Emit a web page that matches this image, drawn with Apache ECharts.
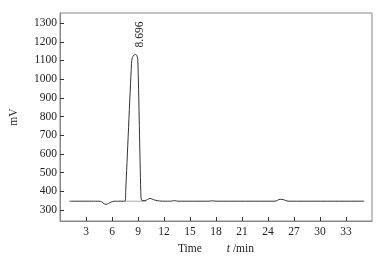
<!DOCTYPE html>
<html><head><meta charset="utf-8">
<script src="https://cdn.jsdelivr.net/npm/echarts@6/dist/echarts.min.js"></script>
<style>html,body{margin:0;padding:0;background:#fff}#c{width:390px;height:261px}</style>
</head><body><div id="c"></div>
<script>
var time   = [1.1, 4.5, 4.8, 5.1, 5.3, 5.6, 5.9, 6.3, 7.5, 7.58, 8.25, 8.35, 8.5, 8.7, 8.85, 8.98, 9.32, 9.42, 9.8, 10.1, 10.4, 10.8, 11.3, 12.0, 12.8, 13.2, 13.6, 17.2, 17.6, 18.0, 24.8, 25.4, 25.8, 26.3, 35.1];
var signal = [347, 347, 344, 333, 330, 335, 343, 347, 347, 400, 1085, 1115, 1128, 1132, 1128, 1105, 400, 352, 350, 356, 362, 355, 349, 347, 347, 350, 347, 347, 349, 347, 347, 357, 355, 347, 347];
var baseTime  = [7.5, 9.9];
var baseValue = [347, 347];
var peakTime = 8.7;
var peakLabel = '8.696';
var xTicks = [3, 6, 9, 12, 15, 18, 21, 24, 27, 30, 33];
var yTicks = [300, 400, 500, 600, 700, 800, 900, 1000, 1100, 1200, 1300];

var mainData = time.map(function (t, i) { return [t, signal[i]]; });
var peakValue = signal[time.indexOf(peakTime)];
var baseData = baseTime.map(function (t, i) { return [t, baseValue[i]]; });

var font = 'Liberation Serif';
var chart = echarts.init(document.getElementById('c'), null, {renderer: 'canvas'});
chart.setOption({
  animation: false,
  backgroundColor: '#fff',
  grid: {left: 55, right: 18, top: 13, bottom: 40, show: true, borderColor: '#888', borderWidth: 1},
  xAxis: {
    type: 'value', min: 0, max: 36,
    axisLine: {show: true, lineStyle: {color: '#888', width: 1}},
    axisTick: {show: true, inside: true, length: 4, customValues: xTicks, lineStyle: {color: '#333'}},
    axisLabel: {customValues: xTicks, margin: 5, fontFamily: font, fontSize: 11.5, color: '#222',
      formatter: function (v) { return String(v); }},
    splitLine: {show: false},
    name: '{a|Time}{i|t}{b| /min}', nameLocation: 'middle', nameGap: 20,
    nameTextStyle: {fontFamily: font, fontSize: 11.5, color: '#222',
      rich: {a: {fontFamily: font, fontSize: 11.5, color: '#222', padding: [0, 25, 0, 0]},
             i: {fontFamily: font, fontSize: 11.5, fontStyle: 'italic', color: '#222'},
             b: {fontFamily: font, fontSize: 11.5, color: '#222'}}}
  },
  yAxis: {
    type: 'value', min: 241, max: 1354,
    axisLine: {show: true, lineStyle: {color: '#888', width: 1}},
    axisTick: {show: true, inside: true, length: 4, customValues: yTicks, lineStyle: {color: '#333'}},
    axisLabel: {customValues: yTicks, margin: 3, fontFamily: font, fontSize: 11.5, color: '#222',
      formatter: function (v) { return String(v); }},
    splitLine: {show: false},
    name: 'mV', nameLocation: 'middle', nameGap: 40, nameRotate: 90,
    nameTextStyle: {fontFamily: font, fontSize: 11.5, color: '#222'}
  },
  series: [
    {type: 'line', data: baseData, symbol: 'none', silent: true, lineStyle: {color: '#aaa', width: 1}, z: 1},
    {type: 'line', data: mainData, symbol: 'none', smooth: 0.25, lineStyle: {color: '#333', width: 1}, z: 2,
      markPoint: {
        symbol: 'circle', symbolSize: 0, silent: true,
        data: [{coord: [peakTime, peakValue], value: peakLabel}],
        label: {show: true, formatter: peakLabel, position: 'top', distance: 7, rotate: 90,
          align: 'left', verticalAlign: 'middle', offset: [0, 5],
          fontFamily: font, fontSize: 11.5, color: '#222'}
      }}
  ]
});
</script></body></html>
